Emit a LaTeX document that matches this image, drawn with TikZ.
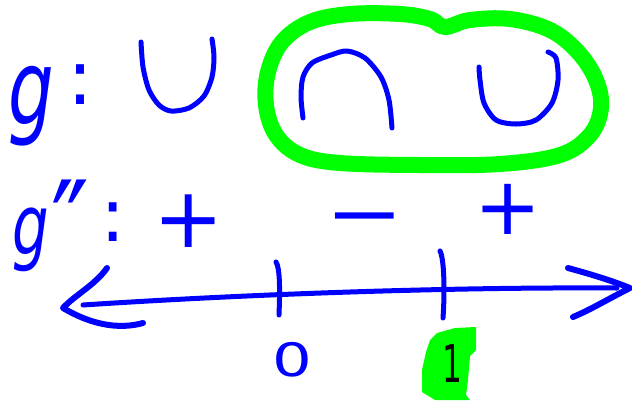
\documentclass[tikz,border=0pt]{standalone}
\usepackage{fontspec}
\setmainfont{DejaVu Sans}
\definecolor{pen}{HTML}{0000FF}
\definecolor{hl}{HTML}{00FF00}
\begin{document}
\begin{tikzpicture}[x=1pt,y=-1pt,
  ink/.style={draw=pen,line width=5pt,line cap=round,line join=round},
  hilite/.style={draw=hl,line width=16pt,line join=round},
  txt/.style={text=pen,inner sep=0pt,outer sep=0pt},
  fs/.style={font=\fontsize{#1}{#1}\selectfont}]
\useasboundingbox (0,0) rectangle (632,400);
% green loop around the last two shapes
\draw[hilite] plot[smooth cycle,tension=0.6] coordinates {(445,27) (470,20) (510,19) (550,30) (578,52) (596,80) (601,108) (590,135) (560,155) (500,164) (420,165) (340,163) (300,155) (276,135) (266,105) (268,72) (282,42) (310,22) (350,14) (400,14) (430,19)};
% g :
\node[txt,fs=80] (g1) at (31,106) {\scalebox{0.9}[1.3]{\itshape g}};
\node[txt,fs=77] (c1) at (80,85) {:};
% cup cap cup
\draw[ink] plot[smooth] coordinates {(141,42) (143,67) (149,90) (159,105) (171,111) (189,108) (204,96) (212,77) (214,57) (212,39)};
\draw[ink] plot[smooth] coordinates {(303,118) (301,97) (303,77) (312,63) (331,55) (347,51) (365,58) (381,77) (389,100) (392,128)};
\draw[ink] plot[smooth] coordinates {(548,52) (556,58) (558,80) (552,103) (536,120) (516,124) (496,120) (484,103) (480,80) (479,67)};
% g'' :
\node[txt,fs=64] (g2) at (31,240) {\scalebox{0.9}[1.3]{\itshape g}};
\node[txt,fs=127,anchor=north] (pp) at (70,180) {\scalebox{0.8}[1]{″}};
\node[txt,fs=75] (c2) at (113,222) {:};
% signs
\node[txt,fs=84] (s1) at (189,221) {+};
\node[txt,fs=75,anchor=north] (s2) at (365,213) {\scalebox{1.25}[1]{−}};
\node[txt,fs=80] (s3) at (508,209) {+};
% number line
\coordinate (nlL) at (83,305);
\coordinate (nlR) at (617,288);
\draw[ink] (nlL) .. controls (250,294) and (450,287) .. (nlR);
\coordinate (laT) at (107,268);
\coordinate (laP) at (63,308);
\coordinate (laB) at (143,323);
\draw[ink,line width=6pt] (laT) .. controls (95,285) and (75,295) .. (laP) .. controls (80,318) and (110,332) .. (laB);
\coordinate (raT) at (568,268);
\coordinate (raP) at (630,288);
\coordinate (raB) at (573,317);
\draw[ink,line width=6pt] (raT) .. controls (590,274) and (610,280) .. (raP) .. controls (610,298) and (590,310) .. (raB);
% ticks
\coordinate (t0a) at (276,262);
\coordinate (t0b) at (279,315);
\draw[ink] (t0a) .. controls (280,268) and (280,290) .. (t0b);
\coordinate (t1a) at (440,251);
\coordinate (t1b) at (443,318);
\draw[ink] (t1a) .. controls (444,258) and (445,290) .. (t1b);
% labels
\node[txt,fs=50] (n0) at (292,360) {\scalebox{1.25}[0.92]{0}};
\fill[hl] (437,333) -- (455,328) -- (476,327) -- (476,350) -- (470,356) -- (468,380) -- (466,395) -- (470,400) -- (435,400) -- (422,392) -- (422,370) -- (426,352) -- (430,340) -- cycle;
\node[inner sep=0pt,fs=52,text=black] (n1) at (452,364) {\scalebox{0.6}[1]{1}};
\end{tikzpicture}
\end{document}
